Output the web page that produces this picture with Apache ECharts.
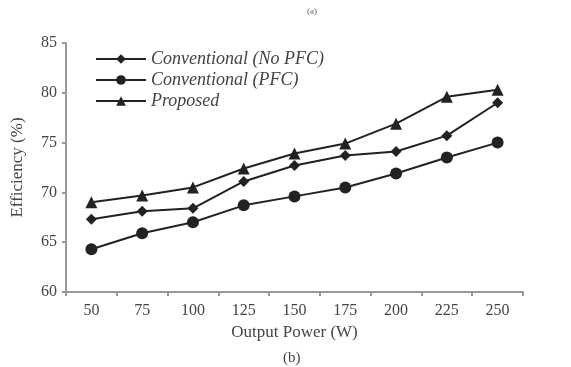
<!DOCTYPE html>
<html>
<head>
<meta charset="utf-8">
<script src="https://cdn.jsdelivr.net/npm/echarts@6/dist/echarts.min.js"></script>
<style>
html, body { margin: 0; padding: 0; background: #fff; }
#chart { width: 571px; height: 367px; }
</style>
</head>
<body>
<div id="chart"></div>
<script>
var power = ['50', '75', '100', '125', '150', '175', '200', '225', '250'];
var noPfc = [67.3, 68.1, 68.4, 71.1, 72.7, 73.7, 74.1, 75.7, 79.0];
var pfc = [64.3, 65.9, 67.0, 68.7, 69.6, 70.5, 71.9, 73.5, 75.0];
var proposed = [69.0, 69.7, 70.5, 72.4, 73.9, 74.9, 76.9, 79.6, 80.3];
var yTicks = [60, 65, 70, 75, 80, 85];

var chart = echarts.init(document.getElementById('chart'));
var font = 'Liberation Serif';
var ink = '#222';

function line(name, data, symbol, size) {
    return {
        name: name,
        type: 'line',
        data: data,
        symbol: symbol,
        symbolSize: size,
        lineStyle: { color: ink, width: 2 },
        itemStyle: { color: ink },
        animation: false
    };
}

option = {
    title: [
        { text: '(a)', left: 302, top: 2, textStyle: { fontFamily: font, fontSize: 9, fontWeight: 'normal', color: '#666' } },
        { text: '(b)', left: 278, top: 346, textStyle: { fontFamily: font, fontSize: 15, fontWeight: 'normal', color: '#444' } }
    ],
    legend: {
        orient: 'vertical',
        left: 90,
        top: 45,
        itemWidth: 50,
        itemHeight: 12,
        itemGap: 3,
        textStyle: { fontFamily: font, fontStyle: 'italic', fontSize: 18, color: '#444' },
        data: ['Conventional (No PFC)', 'Conventional (PFC)', 'Proposed']
    },
    grid: { left: 66, right: 48, top: 43, bottom: 75 },
    xAxis: {
        type: 'category',
        data: power,
        boundaryGap: true,
        name: 'Output Power (W)',
        nameLocation: 'middle',
        nameGap: 31,
        nameTextStyle: { fontFamily: font, fontSize: 17, color: '#444' },
        axisLine: { lineStyle: { color: '#999', width: 2 } },
        axisTick: { show: true, length: 4, lineStyle: { color: '#999', width: 2 } },
        axisLabel: { fontFamily: font, fontSize: 16, color: '#444', margin: 11 }
    },
    yAxis: {
        type: 'value',
        min: yTicks[0],
        max: yTicks[yTicks.length - 1],
        interval: 5,
        name: 'Efficiency (%)',
        nameLocation: 'middle',
        nameGap: 40,
        nameTextStyle: { fontFamily: font, fontSize: 17, color: '#444' },
        axisLine: { show: true, lineStyle: { color: '#999', width: 2 } },
        axisTick: { show: true, length: 4, lineStyle: { color: '#999', width: 2 } },
        axisLabel: { fontFamily: font, fontSize: 16, color: '#444', margin: 9 },
        splitLine: { show: false }
    },
    series: [
        line('Conventional (No PFC)', noPfc, 'diamond', 11),
        line('Conventional (PFC)', pfc, 'circle', 12),
        line('Proposed', proposed, 'triangle', 12)
    ]
};
chart.setOption(option);
</script>
</body>
</html>
